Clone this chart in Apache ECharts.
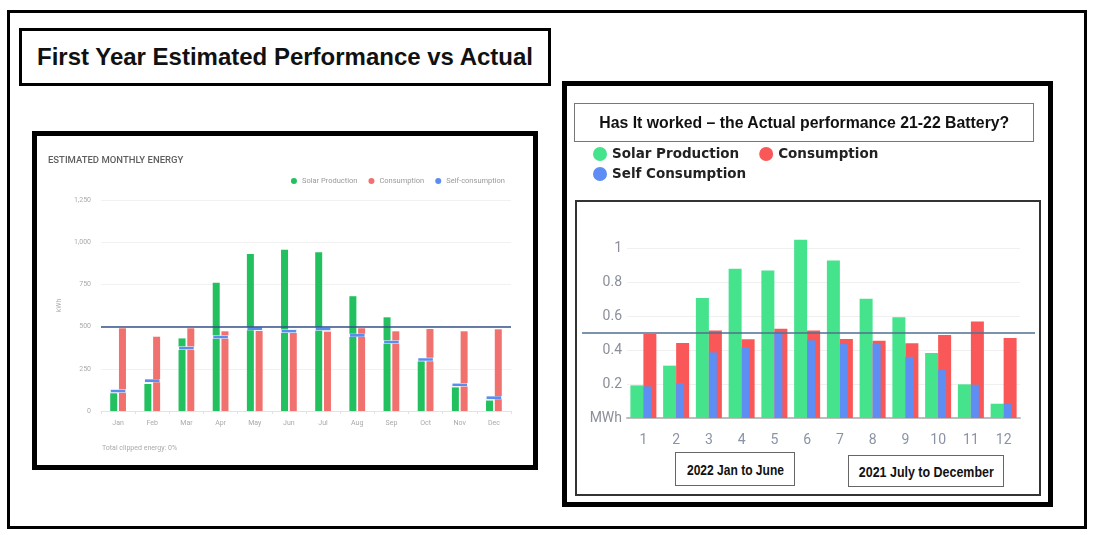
<!DOCTYPE html>
<html>
<head>
<meta charset="utf-8">
<script src="https://cdn.jsdelivr.net/npm/echarts@6.0.0/dist/echarts.min.js"></script>
<style>
  html, body { margin: 0; padding: 0; background: #fff; }
  body { width: 1094px; height: 535px; position: relative; overflow: hidden; }
  .box { position: absolute; box-sizing: border-box; }
  .fit { font-family: "Liberation Sans", Arial, sans-serif; font-weight: bold; color: #111; }
  .fit span { display: inline-block; white-space: nowrap; transform-origin: center center; }
  #frame { left: 7px; top: 10px; width: 1080px; height: 519px; border: 3px solid #000; }
  #mainTitle { left: 19px; top: 28px; width: 532px; height: 58px; border: 3px solid #000;
    display: flex; align-items: center; padding-left: 15px; font-size: 24px; }
  #mainTitle span { transform-origin: left center; }
  #leftPanel { left: 32px; top: 131px; width: 506px; height: 339px; border: 5px solid #000; }
  #leftChart { position: absolute; left: 0; top: 0; width: 496px; height: 329px; }
  #rightPanel { left: 562px; top: 81px; width: 491px; height: 426px; border: 5px solid #000; }
  #rightChart { position: absolute; left: 0; top: 0; width: 481px; height: 416px; z-index: 2; }
  #innerBox { left: 8px; top: 114px; width: 466px; height: 296px; border: 2px solid #333; z-index: 1; }
  #rightTitle { left: 7px; top: 17px; width: 460px; height: 39px; border: 1.5px solid #777;
    display: flex; align-items: center; justify-content: center; font-size: 17px; z-index: 3; }
  .yearBox { border: 1.5px solid #666; display: flex; align-items: center; justify-content: center;
    font-size: 15px; z-index: 3; background: #fff; }
  #year1 { left: 108px; top: 366px; width: 120px; height: 34px; }
  #year2 { left: 281px; top: 369px; width: 156px; height: 32px; }
</style>
</head>
<body>
<div id="frame" class="box"></div>
<div id="mainTitle" class="box fit" data-w="496"><span>First Year Estimated Performance vs Actual</span></div>

<div id="leftPanel" class="box">
  <div id="leftChart"></div>
</div>

<div id="rightPanel" class="box">
  <div id="innerBox" class="box"></div>
  <div id="rightChart"></div>
  <div id="rightTitle" class="box fit" data-w="410"><span>Has It worked – the Actual performance 21-22 Battery?</span></div>
  <div id="year1" class="box yearBox fit" data-w="97"><span>2022 Jan to June</span></div>
  <div id="year2" class="box yearBox fit" data-w="135"><span>2021 July to December</span></div>
</div>

<script>
// estimated (kWh)
const months = ["Jan", "Feb", "Mar", "Apr", "May", "Jun", "Jul", "Aug", "Sep", "Oct", "Nov", "Dec"];
const estSolar = [105, 160, 430, 760, 930, 955, 940, 680, 555, 295, 140, 62];
const estConsumption = [490, 440, 490, 472, 474, 462, 470, 490, 472, 486, 472, 484];
const estSelf = [118, 180, 372, 438, 488, 472, 486, 448, 409, 305, 156, 79];
const estTarget = 500;

// actual (MWh)
const actMonths = ["1", "2", "3", "4", "5", "6", "7", "8", "9", "10", "11", "12"];
const actSolar = [0.192, 0.308, 0.706, 0.878, 0.867, 1.049, 0.927, 0.702, 0.592, 0.382, 0.198, 0.084];
const actConsumption = [0.494, 0.441, 0.514, 0.463, 0.525, 0.514, 0.465, 0.455, 0.44, 0.488, 0.567, 0.47];
const actSelf = [0.186, 0.206, 0.386, 0.416, 0.504, 0.457, 0.435, 0.435, 0.36, 0.282, 0.196, 0.082];
const actTarget = 0.5;

// 标题文字压窄到原图宽度（没有 Calibri）
document.querySelectorAll(".fit").forEach((el) => {
  const span = el.querySelector("span");
  const w = span.getBoundingClientRect().width;
  span.style.transform = "scaleX(" + Number(el.dataset.w) / w + ")";
});

// 左图：估算
const left = echarts.init(document.getElementById("leftChart"));
left.setOption({
  animation: false,
  title: {
    text: "ESTIMATED MONTHLY ENERGY",
    left: 6,
    top: 15,
    textStyle: { fontFamily: "Roboto", fontSize: 9.5, fontWeight: 500, color: "#5f5f5f" },
  },
  legend: {
    right: 23,
    top: 36,
    itemWidth: 6,
    itemHeight: 6,
    itemGap: 11,
    textStyle: { fontFamily: "Roboto", fontSize: 7.5, color: "#9a9a9a" },
    data: [
      { name: "Solar Production", icon: "circle" },
      { name: "Consumption", icon: "circle" },
      { name: "Self-consumption", icon: "circle", itemStyle: { borderWidth: 0 } },
    ],
  },
  grid: { left: 64, right: 22, top: 64, bottom: 54 },
  xAxis: {
    type: "category",
    data: months,
    axisLine: { lineStyle: { color: "#e3e3e3" } },
    axisTick: { show: true, length: 3, lineStyle: { color: "#e3e3e3" } },
    axisLabel: { color: "#aaa", fontSize: 7, fontFamily: "Roboto", margin: 9 },
  },
  yAxis: {
    type: "value",
    min: 0,
    max: 1250,
    interval: 250,
    name: "kWh",
    nameLocation: "middle",
    nameGap: 36,
    nameTextStyle: { color: "#aaa", fontSize: 7, fontFamily: "Roboto" },
    axisLabel: {
      color: "#aaa",
      fontSize: 7,
      fontFamily: "Roboto",
      margin: 10,
      formatter: (v) => v.toLocaleString("en-US"),
    },
    splitLine: { lineStyle: { color: "#f1f1f1" } },
  },
  series: [
    {
      name: "Solar Production",
      type: "bar",
      data: estSolar,
      barWidth: 7,
      barGap: "25%",
      itemStyle: { color: "#22c05e" },
      markLine: {
        silent: true,
        symbol: "none",
        label: { show: false },
        lineStyle: { color: "#34508a", width: 1.5, type: "solid" },
        data: [{ yAxis: estTarget }],
      },
    },
    {
      name: "Consumption",
      type: "bar",
      data: estConsumption,
      barWidth: 7,
      itemStyle: { color: "#f0716d" },
    },
    {
      name: "Self-consumption",
      type: "scatter",
      data: estSelf,
      symbol: "rect",
      symbolSize: [17, 3],
      z: 4,
      itemStyle: { color: "#5b8def", borderColor: "#fff", borderWidth: 1, opacity: 1 },
    },
  ],
  graphic: [
    {
      type: "text",
      left: 65,
      top: 309,
      style: { text: "Total clipped energy: 0%", fill: "#aaa", fontSize: 7, fontFamily: "Roboto" },
    },
  ],
});

// 右图：实际
const legendText = { fontFamily: "DejaVu Sans", fontWeight: "bold", fontSize: 13.5, color: "#222" };
const right = echarts.init(document.getElementById("rightChart"));
right.setOption({
  animation: false,
  legend: [
    {
      left: 21,
      top: 56,
      icon: "circle",
      itemWidth: 14,
      itemHeight: 14,
      itemGap: 20,
      textStyle: legendText,
      data: ["Solar Production", "Consumption"],
    },
    {
      left: 21,
      top: 76,
      icon: "circle",
      itemWidth: 14,
      itemHeight: 14,
      textStyle: legendText,
      data: ["Self Consumption"],
    },
  ],
  grid: [
    { left: 60, right: 28, top: 128, bottom: 84 },
    // 参考线用的隐藏网格，比图区宽
    { left: 15, right: 13, top: 128, bottom: 84 },
  ],
  xAxis: [
    {
      type: "category",
      data: actMonths,
      axisLine: { lineStyle: { color: "#bdbdbd", width: 2 } },
      axisTick: { show: false },
      axisLabel: { color: "#8a93a6", fontSize: 14, fontFamily: "Roboto", margin: 15 },
    },
    { type: "category", data: actMonths, show: false },
    { type: "value", gridIndex: 1, min: 0, max: 1, show: false },
  ],
  yAxis: [
    {
      type: "value",
      min: 0,
      max: 1.2,
      interval: 0.2,
      axisLine: { show: false },
      axisTick: { show: false },
      axisLabel: {
        color: "#8a8f99",
        fontSize: 14,
        fontFamily: "Roboto",
        margin: 5,
        showMaxLabel: false,
        formatter: (v) => (v === 0 ? "MWh" : v),
      },
      splitLine: { showMaxLine: false, lineStyle: { color: "#f0f0f0" } },
    },
    { type: "value", gridIndex: 1, min: 0, max: 1.2, show: false },
  ],
  series: [
    {
      name: "Solar Production",
      type: "bar",
      data: actSolar,
      barWidth: 13,
      barGap: 0,
      itemStyle: { color: "#46e38d" },
    },
    {
      name: "Consumption",
      type: "bar",
      data: actConsumption,
      barWidth: 13,
      itemStyle: { color: "#fa5858" },
    },
    // 占位，让蓝色柱子落在红柱左半边
    { type: "bar", xAxisIndex: 1, data: [], barWidth: 8, barGap: 0 },
    {
      name: "Self Consumption",
      type: "bar",
      xAxisIndex: 1,
      data: actSelf,
      barWidth: 8,
      z: 3,
      itemStyle: { color: "#5e8df3" },
    },
    {
      type: "line",
      xAxisIndex: 2,
      yAxisIndex: 1,
      data: [],
      markLine: {
        silent: true,
        symbol: "none",
        label: { show: false },
        lineStyle: { color: "#50708f", width: 1.5, type: "solid" },
        data: [{ yAxis: actTarget }],
      },
    },
  ],
});
</script>
</body>
</html>
